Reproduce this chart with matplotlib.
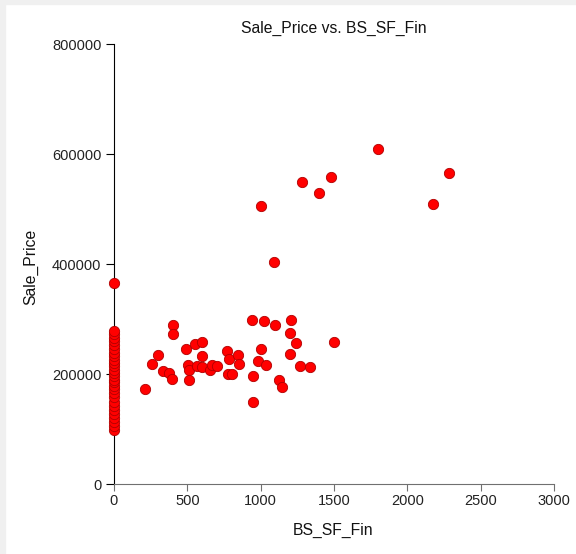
import matplotlib.pyplot as plt
from matplotlib.patches import Rectangle

# ── DATA ─────────────────────────────────────────────
# homes with no finished basement (BS_SF_Fin = 0)
zero_prices = [98000, 105000, 112000, 120000, 128000, 135000, 142000, 150000,
               158000, 165000, 172000, 178000, 185000, 190000, 196000, 202000,
               208000, 214000, 220000, 226000, 232000, 238000, 245000, 252000,
               260000, 266000, 272000, 278000, 365000]

bs_sf_fin = [211, 261, 302, 336, 377, 395, 400, 404, 491, 507, 511, 511, 552,
             568, 602, 602, 602, 655, 670, 702, 768, 777, 782, 804, 845, 850,
             939, 946, 946, 980, 1000, 1002, 1025, 1036, 1093, 1098, 1127, 1143,
             1198, 1202, 1209, 1243, 1270, 1280, 1336, 1400, 1477, 1502, 1800,
             2175, 2286]
sale_price = [172000, 219000, 234000, 205000, 202000, 191000, 289000, 273000,
              245000, 216000, 207000, 190000, 254000, 215000, 259000, 233000,
              212000, 207000, 216000, 215000, 242000, 200000, 227000, 200000,
              235000, 219000, 299000, 196000, 150000, 224000, 505000, 245000,
              296000, 216000, 404000, 289000, 189000, 176000, 237000, 275000,
              299000, 256000, 215000, 550000, 212000, 529000, 559000, 259000,
              610000, 510000, 565000]

x_all = [0] * len(zero_prices) + bs_sf_fin
y_all = zero_prices + sale_price

x_ticks = [0, 500, 1000, 1500, 2000, 2500, 3000]
y_ticks = [0, 200000, 400000, 600000, 800000]

# ── PLOT ─────────────────────────────────────────────
plt.rcParams['font.family'] = ['Liberation Sans', 'DejaVu Sans']

fig = plt.figure(figsize=(5.76, 5.54), dpi=100)
fig.patches.append(Rectangle((0, 0), 5 / 576, 1, transform=fig.transFigure,
                             color='#f0f0f0', zorder=0))
fig.patches.append(Rectangle((0, 1 - 4 / 554), 1, 4 / 554, transform=fig.transFigure,
                             color='#f0f0f0', zorder=0))

ax = fig.add_axes([114 / 576, 1 - 484 / 554, 440 / 576, 440 / 554])
ax.scatter(x_all, y_all, s=55, color='#ff0000', edgecolors='#b00000',
           linewidths=0.6, zorder=3, clip_on=False)

ax.set_xlim(0, 3000)
ax.set_ylim(0, 800000)
ax.set_xticks(x_ticks)
ax.set_yticks(y_ticks)
ax.set_xticklabels([str(v) for v in x_ticks])
ax.set_yticklabels([str(v) for v in y_ticks])

for side in ['top', 'right']:
    ax.spines[side].set_visible(False)
ax.spines['left'].set_color('black')
ax.spines['bottom'].set_color('#707070')
ax.tick_params(axis='y', direction='out', length=6, width=0.8, colors='black',
               labelcolor='#222222', labelsize=10.5, pad=3)
ax.tick_params(axis='x', direction='out', length=5, width=0.8, colors='#707070',
               labelcolor='#222222', labelsize=10.5, pad=2)

fig.text(334 / 576, 1 - 28 / 554, 'Sale_Price vs. BS_SF_Fin', ha='center',
         va='center', fontsize=11.3, color='#111111')
fig.text(333 / 576, 1 - 530 / 554, 'BS_SF_Fin', ha='center', va='center',
         fontsize=11.3, color='#111111')
fig.text(31 / 576, 1 - 267 / 554, 'Sale_Price', ha='center', va='center',
         rotation=90, fontsize=11.3, color='#111111')

fig.savefig('out.png', dpi=100)
